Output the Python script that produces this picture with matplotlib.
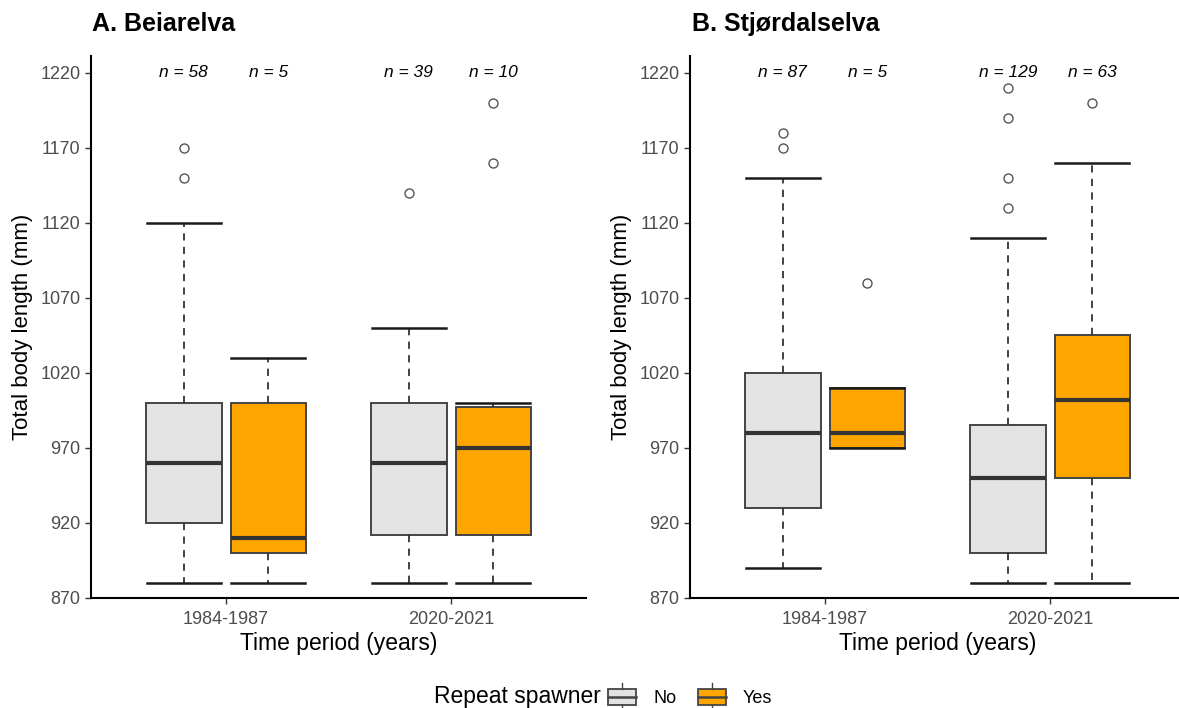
import matplotlib.pyplot as plt
from matplotlib.lines import Line2D
from matplotlib.patches import Rectangle, Patch
from matplotlib.legend_handler import HandlerBase

plt.rcParams["font.family"] = ["Liberation Sans", "DejaVu Sans"]

periods = ["1984-1987", "2020-2021"]
spawner = ["No", "Yes"]
fill_colors = {"No": "#e3e3e3", "Yes": "#ffa500"}

# order in each list: 1984 No, 1984 Yes, 2020 No, 2020 Yes
beia_q1 = [920, 900, 912, 912]
beia_med = [960, 910, 960, 970]
beia_q3 = [1000, 1000, 1000, 997]
beia_wlo = [880, 880, 880, 880]
beia_whi = [1120, 1030, 1050, 1000]
beia_out = [[1150, 1170], [], [1140], [1160, 1200]]
beia_n = [58, 5, 39, 10]

stjo_q1 = [930, 970, 900, 950]
stjo_med = [980, 980, 950, 1002]
stjo_q3 = [1020, 1010, 985, 1045]
stjo_wlo = [890, 970, 880, 880]
stjo_whi = [1150, 1010, 1110, 1160]
stjo_out = [[1170, 1180], [1080], [1130, 1150, 1190, 1210], [1200]]
stjo_n = [87, 5, 129, 63]

y_ticks = [870, 920, 970, 1020, 1070, 1120, 1170, 1220]

DODGE = 0.1875
BOX_W = 0.335


class BoxKey(HandlerBase):
    # ggplot-like boxplot legend key
    def create_artists(self, legend, orig_handle, xdescent, ydescent,
                       width, height, fontsize, trans):
        x0, y0 = -xdescent, -ydescent
        rect = Rectangle((x0, y0), width, height, facecolor=orig_handle.get_facecolor(),
                         edgecolor="#444444", linewidth=1.3, transform=trans)
        med = Line2D([x0, x0 + width], [y0 + height / 2] * 2, color="#444444",
                     linewidth=1.8, transform=trans)
        top = Line2D([x0 + width / 2] * 2, [y0 + height, y0 + height + 4],
                     color="#444444", linewidth=1.0, transform=trans)
        bot = Line2D([x0 + width / 2] * 2, [y0, y0 - 4], color="#444444",
                     linewidth=1.0, transform=trans)
        return [rect, med, top, bot]


def draw_panel(ax, q1, med, q3, wlo, whi, out, ns):
    stats, positions, colors = [], [], []
    k = 0
    for i, _ in enumerate(periods):
        for j, s in enumerate(spawner):
            stats.append(dict(q1=q1[k], med=med[k], q3=q3[k], whislo=wlo[k],
                              whishi=whi[k], fliers=out[k]))
            positions.append(i + 1 + (DODGE if j else -DODGE))
            colors.append(fill_colors[s])
            k += 1

    bp = ax.bxp(
        stats,
        positions=positions,
        widths=BOX_W,
        capwidths=BOX_W * 0.98,
        patch_artist=True,
        boxprops=dict(edgecolor="#444444", linewidth=1.4),
        medianprops=dict(color="#333333", linewidth=3),
        whiskerprops=dict(color="#333333", linewidth=1.3, linestyle=(0, (4, 3.5))),
        capprops=dict(color="#1a1a1a", linewidth=1.8),
        flierprops=dict(marker="o", markerfacecolor="white", markeredgecolor="#555555",
                        markersize=6.5, markeredgewidth=1.0),
    )
    for patch, c in zip(bp["boxes"], colors):
        patch.set_facecolor(c)

    for x, n in zip(positions, ns):
        ax.text(x, 1220, f"n = {n}", ha="center", va="center", fontsize=12.5,
                fontstyle="italic", color="black")

    ax.set_xlim(0.4, 2.6)
    ax.set_ylim(870, 1231)
    ax.set_xticks([1, 2])
    ax.set_xticklabels(periods)
    ax.set_yticks(y_ticks)
    ax.tick_params(axis="both", labelsize=13, labelcolor="#4d4d4d", color="#333333",
                   length=4, width=1.0)
    ax.tick_params(axis="x", pad=5)
    ax.spines["top"].set_visible(False)
    ax.spines["right"].set_visible(False)
    ax.spines["left"].set_linewidth(1.5)
    ax.spines["bottom"].set_linewidth(1.5)
    ax.set_xlabel("Time period (years)", fontsize=16.5, labelpad=3)
    ax.set_ylabel("Total body length (mm)", fontsize=16, labelpad=5)


fig = plt.figure(figsize=(11.79, 7.08), dpi=100)
W, H = 1179, 708
ax_a = fig.add_axes([91 / W, 1 - 598 / H, 495 / W, 542 / H])
ax_b = fig.add_axes([690 / W, 1 - 598 / H, 495 / W, 542 / H])

draw_panel(ax_a, beia_q1, beia_med, beia_q3, beia_wlo, beia_whi, beia_out, beia_n)
draw_panel(ax_b, stjo_q1, stjo_med, stjo_q3, stjo_wlo, stjo_whi, stjo_out, stjo_n)

fig.text(92 / W, 1 - 24 / H, "A. Beiarelva", fontsize=18, fontweight="bold",
         ha="left", va="center")
fig.text(692 / W, 1 - 24 / H, "B. Stjørdalselva", fontsize=18, fontweight="bold",
         ha="left", va="center")

# --- legend at the bottom
fig.text(601 / W, 1 - 697 / H, "Repeat spawner", fontsize=16.5, ha="right", va="center")
handles = [Patch(facecolor=fill_colors[s]) for s in spawner]
fig.legend(
    handles, spawner,
    handler_map={Patch: BoxKey()},
    loc="center left",
    bbox_to_anchor=(608 / W, 1 - 698 / H),
    ncol=2,
    frameon=False,
    fontsize=13,
    handlelength=1.55,
    handleheight=1.0,
    handletextpad=0.95,
    columnspacing=1.2,
    borderpad=0,
    borderaxespad=0,
)

fig.savefig("out.png", dpi=100, facecolor="white")
